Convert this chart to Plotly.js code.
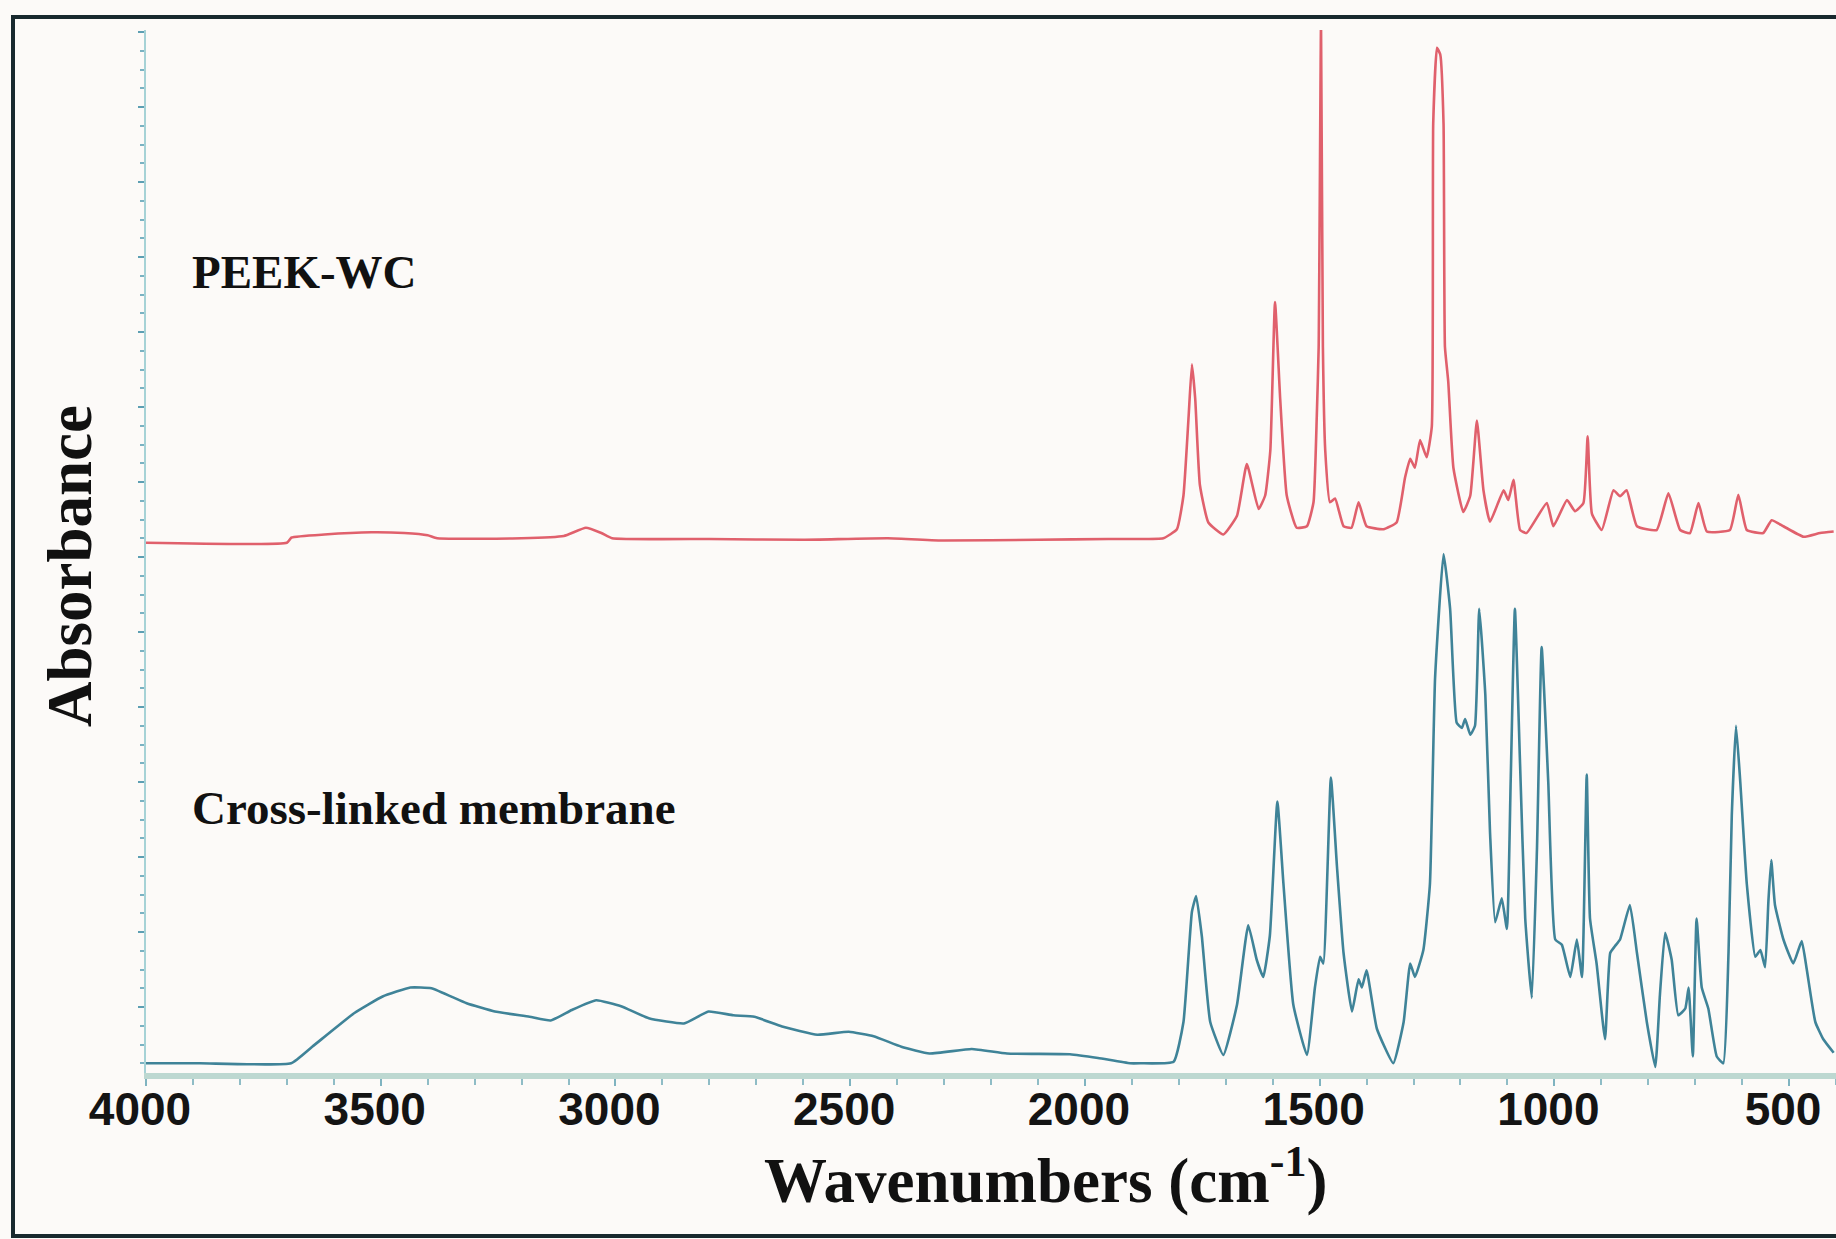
<!DOCTYPE html>
<html>
<head>
<meta charset="utf-8">
<script src="https://cdn.plot.ly/plotly-3.0.1.min.js"></script>
<style>html,body{margin:0;padding:0;background:#fcfaf8;}#chart{width:1836px;height:1239px;}</style>
</head>
<body>
<div id="chart"></div>
<script>
// ---- Data ----
const peekWavenumber = [4000,3700,3690,3620,3520,3450,3400,3380,3200,3110,3063,3030,3007,2800,2600,2420,2300,2100,1950,1904,1833,1804,1790,1779,1772,1765,1755,1737,1705,1676,1655,1630,1616,1605,1595,1584,1570,1549,1527,1513,1506,1502,1497,1493,1488,1478,1467,1449,1432,1417,1400,1364,1336,1318,1307,1297,1286,1272,1261,1258,1250,1243,1236,1233,1226,1215,1194,1179,1165,1151,1137,1108,1098,1087,1073,1059,1016,1002,973,956,938,929,920,899,874,860,846,824,782,757,732,711,693,675,626,608,590,555,537,512,469,434,405];
const peekAbsorbance = [0.707,0.707,0.714,0.718,0.721,0.720,0.717,0.713,0.713,0.716,0.727,0.720,0.713,0.712,0.711,0.713,0.710,0.711,0.712,0.712,0.713,0.725,0.770,0.876,0.945,0.899,0.784,0.734,0.718,0.743,0.812,0.752,0.770,0.830,1.028,0.899,0.770,0.727,0.729,0.761,0.876,0.968,1.399,0.968,0.830,0.761,0.766,0.729,0.727,0.761,0.729,0.725,0.734,0.794,0.819,0.807,0.844,0.821,0.862,1.266,1.367,1.358,1.266,0.968,0.922,0.807,0.748,0.770,0.870,0.777,0.735,0.777,0.764,0.791,0.724,0.720,0.760,0.729,0.764,0.749,0.760,0.849,0.746,0.724,0.777,0.769,0.777,0.729,0.724,0.773,0.724,0.720,0.760,0.722,0.724,0.771,0.724,0.720,0.737,0.729,0.715,0.720,0.722];

const crossWavenumber = [4000,3885,3691,3646,3556,3496,3437,3392,3317,3257,3183,3138,3093,3041,2988,2929,2854,2802,2749,2704,2645,2570,2503,2450,2391,2331,2241,2166,2032,1972,1904,1882,1811,1790,1772,1763,1751,1733,1705,1676,1652,1634,1620,1606,1590,1577,1556,1527,1510,1499,1492,1476,1463,1449,1431,1417,1410,1400,1378,1343,1321,1307,1297,1279,1265,1254,1236,1222,1208,1197,1190,1179,1169,1160,1147,1137,1126,1112,1101,1093,1084,1073,1062,1048,1037,1027,1013,998,984,966,952,941,931,924,910,892,881,871,860,839,824,803,785,775,764,750,736,721,714,705,697,686,672,654,640,629,622,613,604,590,572,561,551,544,538,530,512,491,473,462,444,427,405];
const crossAbsorbance = [0.013,0.013,0.013,0.035,0.080,0.102,0.114,0.113,0.093,0.082,0.075,0.070,0.084,0.097,0.089,0.073,0.066,0.082,0.077,0.075,0.062,0.051,0.055,0.049,0.035,0.026,0.032,0.026,0.025,0.020,0.013,0.013,0.015,0.068,0.215,0.236,0.183,0.068,0.024,0.091,0.197,0.151,0.128,0.183,0.362,0.252,0.091,0.024,0.114,0.155,0.146,0.394,0.275,0.160,0.082,0.125,0.114,0.137,0.059,0.013,0.068,0.146,0.128,0.164,0.252,0.527,0.692,0.619,0.467,0.460,0.472,0.451,0.463,0.619,0.504,0.321,0.201,0.233,0.192,0.389,0.619,0.412,0.206,0.100,0.298,0.568,0.389,0.178,0.171,0.128,0.178,0.128,0.398,0.206,0.146,0.045,0.160,0.169,0.178,0.224,0.160,0.068,0.008,0.105,0.187,0.151,0.077,0.086,0.114,0.022,0.206,0.114,0.086,0.022,0.013,0.160,0.343,0.463,0.389,0.252,0.155,0.164,0.141,0.229,0.284,0.224,0.178,0.146,0.176,0.137,0.068,0.045,0.027];

const xTickValues = [4000,3500,3000,2500,2000,1500,1000,500];
const xTickLabels = ["4000","3500","3000","2500","2000","1500","1000","500"];
const seriesNames = ["PEEK-WC","Cross-linked membrane"];
const xTitleText = "Wavenumbers (cm<sup>-1</sup>)";
const yTitleText = "Absorbance";

// ---- Figure ----
const traces = [
  {x: peekWavenumber, y: peekAbsorbance, name: seriesNames[0], type: 'scatter', mode: 'lines',
   line: {color: '#e0606c', width: 2.6, shape: 'spline', smoothing: 0.4}, hoverinfo: 'x+y'},
  {x: crossWavenumber, y: crossAbsorbance, name: seriesNames[1], type: 'scatter', mode: 'lines',
   line: {color: '#3f8398', width: 2.6, shape: 'spline', smoothing: 0.4}, hoverinfo: 'x+y'}
];

const serif = '"Liberation Serif", "Times New Roman", Times, serif';

const layout = {
  width: 1836, height: 1239,
  margin: {l: 146, r: 0, t: 30, b: 166, pad: 0},
  paper_bgcolor: '#fcfaf8', plot_bgcolor: '#fcfaf8',
  showlegend: false,
  xaxis: {
    range: [4000, 400], tickmode: 'array', tickvals: xTickValues, ticktext: xTickLabels,
    showgrid: false, zeroline: false, showline: true, linecolor: '#bdd8d1', linewidth: 6,
    ticks: 'outside', ticklen: 7, tickwidth: 2, tickcolor: '#7fb3c0',
    ticklabelshift: 6, ticklabelstandoff: -16, ticklabeloverflow: 'allow',
    tickfont: {family: '"Liberation Sans", Arial, sans-serif', size: 46, color: '#141414', weight: 'bold'},
    minor: {tickmode: 'linear', tick0: 0, dtick: 100, ticks: 'outside', ticklen: 6, tickwidth: 2, tickcolor: '#8fbcc6', showgrid: false}
  },
  yaxis: {
    range: [0, 1.3907], tickmode: 'linear', tick0: 0.088, dtick: 0.1,
    showticklabels: false, showgrid: false, zeroline: false,
    showline: true, linecolor: '#a6d2d6', linewidth: 2,
    ticks: 'outside', ticklen: 6, tickwidth: 2, tickcolor: '#5d9fb3',
    minor: {tickmode: 'linear', tick0: 0.088, dtick: 0.025, ticks: 'outside', ticklen: 4, tickwidth: 2, tickcolor: '#7ab2c2', showgrid: false}
  },
  annotations: [
    {text: seriesNames[0], xref: 'paper', yref: 'paper', x: 0.026, y: 0.768, xanchor: 'left', yanchor: 'middle',
     showarrow: false, font: {family: serif, size: 47, color: '#111', weight: 'bold'}},
    {text: seriesNames[1], xref: 'paper', yref: 'paper', x: 0.026, y: 0.254, xanchor: 'left', yanchor: 'middle',
     showarrow: false, font: {family: serif, size: 47, color: '#111', weight: 'bold'}},
    {text: yTitleText, xref: 'paper', yref: 'paper', x: -0.045, y: 0.486, xanchor: 'center', yanchor: 'middle',
     textangle: -90, showarrow: false, font: {family: serif, size: 63, color: '#111', weight: 'bold'}},
    {text: xTitleText, xref: 'paper', yref: 'paper', x: 0.532, y: -0.0994, xanchor: 'center', yanchor: 'middle',
     showarrow: false, font: {family: serif, size: 63, color: '#111', weight: 'bold'}}
  ],
  shapes: [
    {type: 'rect', xref: 'paper', yref: 'paper', x0: -0.0787, x1: 1.005, y0: -0.1563, y1: 1.0125,
     line: {color: '#18292e', width: 4}, fillcolor: 'rgba(0,0,0,0)', layer: 'below'}
  ]
};

Plotly.newPlot('chart', traces, layout, {displayModeBar: false, staticPlot: true});
</script>
</body>
</html>
